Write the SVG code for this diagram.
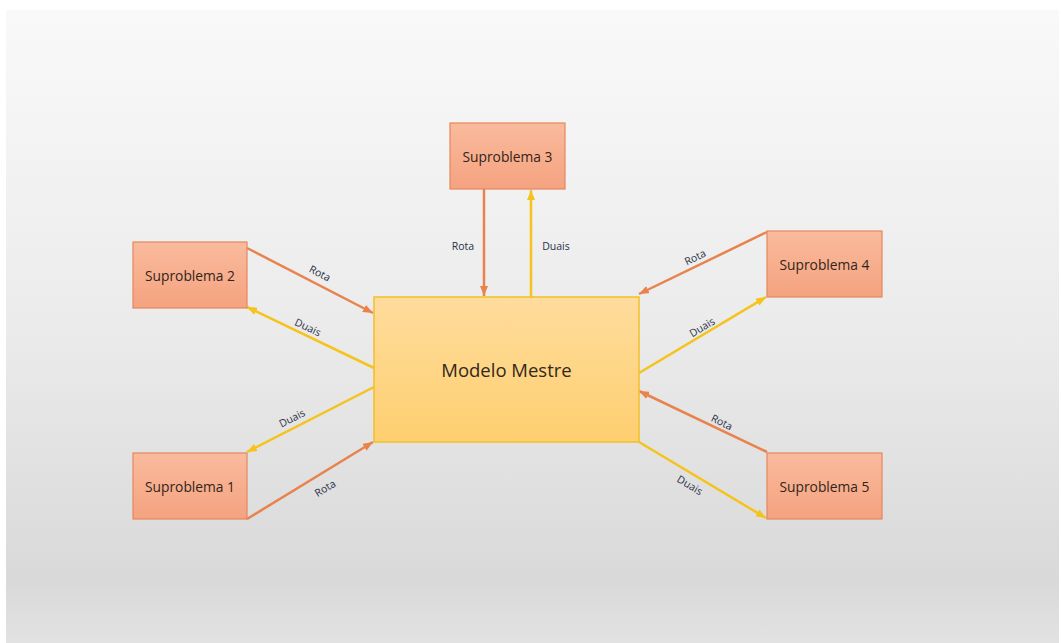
<svg xmlns="http://www.w3.org/2000/svg" width="1061" height="643" viewBox="0 0 1061 643">
<defs>
<linearGradient id="bg" x1="0" y1="0" x2="0" y2="1">
<stop offset="0" stop-color="#f9f9f9"/>
<stop offset="0.5" stop-color="#ebebeb"/>
<stop offset="0.9" stop-color="#d9d9d9"/>
<stop offset="1" stop-color="#e2e2e2"/>
</linearGradient>
<linearGradient id="sub" x1="0" y1="0" x2="0" y2="1">
<stop offset="0" stop-color="#f9bb9d"/>
<stop offset="1" stop-color="#f5a27f"/>
</linearGradient>
<linearGradient id="mst" x1="0" y1="0" x2="0" y2="1">
<stop offset="0" stop-color="#fedc9c"/>
<stop offset="1" stop-color="#fecf70"/>
</linearGradient>
<marker id="ao" markerUnits="userSpaceOnUse" markerWidth="10" markerHeight="8" refX="10" refY="4" orient="auto">
<path d="M0,0 L10,4 L0,8 z" fill="#e8834e"/>
</marker>
<marker id="ay" markerUnits="userSpaceOnUse" markerWidth="10" markerHeight="8" refX="10" refY="4" orient="auto">
<path d="M0,0 L10,4 L0,8 z" fill="#f5c31c"/>
</marker>
</defs>
<style>
.sub{fill:url(#sub);stroke:#e5875f;stroke-width:1.2}
.mst{fill:url(#mst);stroke:#f2c02a;stroke-width:1.5}
.t{font-family:"Open Sans","Liberation Sans",sans-serif;font-size:13.8px;fill:#33241a;text-anchor:middle;dominant-baseline:central}
.tm{font-family:"Open Sans","Liberation Sans",sans-serif;font-size:18.5px;fill:#33281a;text-anchor:middle;dominant-baseline:central}
.l{font-family:"Open Sans","Liberation Sans",sans-serif;font-size:10.5px;fill:#2a3148;text-anchor:middle;dominant-baseline:central}
.r{stroke:#e8834e;stroke-width:2.5;fill:none;marker-end:url(#ao)}
.d{stroke:#f5c31c;stroke-width:2.5;fill:none;marker-end:url(#ay)}
</style>
<rect x="0" y="0" width="1061" height="643" fill="#ffffff"/>
<rect x="6" y="10" width="1053" height="633" fill="url(#bg)"/>

<g id="connectors">
<line class="r" x1="247" y1="248" x2="373" y2="313"/>
<line class="d" x1="374" y1="368" x2="247" y2="307"/>
<line class="d" x1="374" y1="387" x2="247" y2="452"/>
<line class="r" x1="247" y1="519" x2="373" y2="442"/>
<line class="r" x1="484" y1="189" x2="484" y2="296"/>
<line class="d" x1="531" y1="297" x2="531" y2="190"/>
<line class="r" x1="767" y1="232" x2="639" y2="294"/>
<line class="d" x1="639" y1="373" x2="766" y2="297"/>
<line class="r" x1="767" y1="452" x2="639" y2="391"/>
<line class="d" x1="639" y1="442" x2="766" y2="518"/>
<text class="l" transform="translate(320,273) rotate(27.3)">Rota</text>
<text class="l" transform="translate(308,327) rotate(25.7)">Duais</text>
<text class="l" transform="translate(292,418) rotate(-27.1)">Duais</text>
<text class="l" transform="translate(325,488) rotate(-31.4)">Rota</text>
<text class="l" x="463" y="246">Rota</text>
<text class="l" x="556" y="246">Duais</text>
<text class="l" transform="translate(695,257) rotate(-25.8)">Rota</text>
<text class="l" transform="translate(702,327) rotate(-30.9)">Duais</text>
<text class="l" transform="translate(722,422) rotate(25.5)">Rota</text>
<text class="l" transform="translate(690,485) rotate(30.9)">Duais</text>
</g>

<g id="master">
<rect class="mst" x="374" y="297" width="265" height="145"/>
<text class="tm" x="506.5" y="369">Modelo Mestre</text>
</g>
<g id="sub1">
<rect class="sub" x="133" y="453" width="114" height="66"/>
<text class="t" x="190" y="486">Suproblema 1</text>
</g>
<g id="sub2">
<rect class="sub" x="133" y="242" width="114" height="66"/>
<text class="t" x="190" y="275">Suproblema 2</text>
</g>
<g id="sub3">
<rect class="sub" x="450" y="123" width="115" height="66"/>
<text class="t" x="507.5" y="156">Suproblema 3</text>
</g>
<g id="sub4">
<rect class="sub" x="767" y="231" width="115" height="66"/>
<text class="t" x="824.5" y="264">Suproblema 4</text>
</g>
<g id="sub5">
<rect class="sub" x="767" y="453" width="115" height="66"/>
<text class="t" x="824.5" y="486">Suproblema 5</text>
</g>
</svg>
